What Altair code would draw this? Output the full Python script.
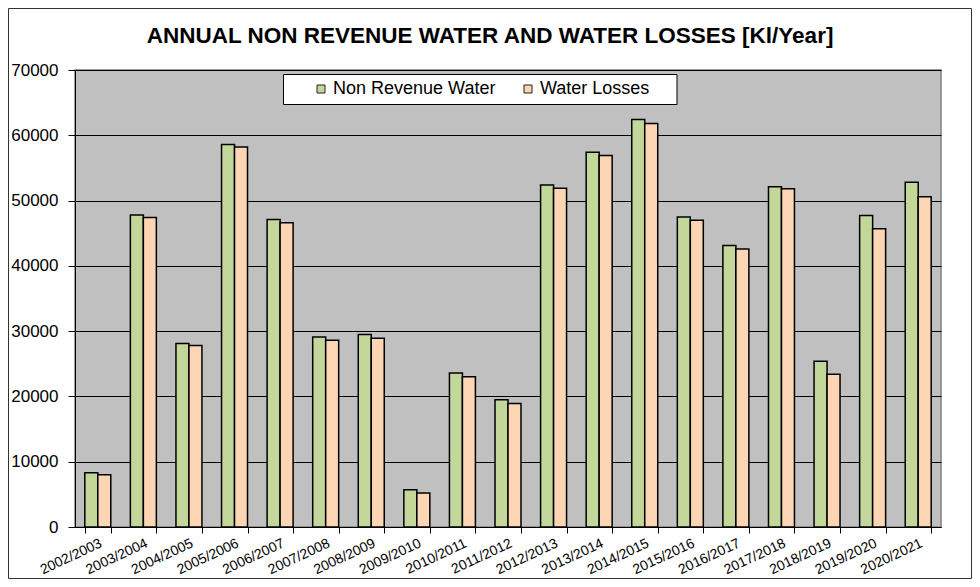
import altair as alt
import pandas as pd

years = ["2002/2003", "2003/2004", "2004/2005", "2005/2006", "2006/2007",
         "2007/2008", "2008/2009", "2009/2010", "2010/2011", "2011/2012",
         "2012/2013", "2013/2014", "2014/2015", "2015/2016", "2016/2017",
         "2017/2018", "2018/2019", "2019/2020", "2020/2021"]
non_revenue_water = [8300, 47800, 28100, 58600, 47100, 29100, 29500, 5700, 23600, 19500,
                     52400, 57400, 62400, 47500, 43100, 52100, 25400, 47700, 52800]
water_losses = [8000, 47400, 27800, 58200, 46600, 28600, 28900, 5200, 23000, 18900,
                51900, 56900, 61800, 47000, 42600, 51800, 23400, 45700, 50600]
series_names = ["Non Revenue Water", "Water Losses"]
series_colors = ["#C4D79B", "#FCD5B4"]
y_ticks = [0, 10000, 20000, 30000, 40000, 50000, 60000, 70000]

rows = []
for i, yr in enumerate(years):
    rows.append({"year": yr, "series": series_names[0], "value": non_revenue_water[i]})
    rows.append({"year": yr, "series": series_names[1], "value": water_losses[i]})
df = pd.DataFrame(rows)

FONT = "Liberation Sans"
W, H = 866, 457
PAD = {"left": 67, "top": 62, "right": 31, "bottom": 52}

bars = alt.Chart(df).mark_bar(stroke="black", strokeWidth=1.5).encode(
    x=alt.X("year:N", sort=years,
            scale=alt.Scale(paddingInner=0.43, paddingOuter=0.215),
            axis=alt.Axis(title=None, labelAngle=-25, labelFontSize=14, labelFont=FONT,
                          labelColor="black", tickBand="extent", tickSize=6,
                          tickColor="black", domainColor="black", labelPadding=3,
                          labelAlign="right", labelBaseline="top", grid=False)),
    xOffset=alt.XOffset("series:N", sort=series_names),
    y=alt.Y("value:Q", scale=alt.Scale(domain=[0, 70000], nice=False),
            axis=alt.Axis(title=None, values=y_ticks, format="d", labelFontSize=17,
                          labelFont=FONT, labelColor="black", tickSize=7,
                          tickColor="black", domainColor="black", labelPadding=10,
                          gridColor="black", gridWidth=1, gridOpacity=1)),
    color=alt.Color("series:N", sort=series_names,
                    scale=alt.Scale(domain=series_names, range=series_colors),
                    legend=alt.Legend(title=None, orient="none", legendX=237, legendY=10,
                                      direction="horizontal", symbolType="square",
                                      symbolSize=64, symbolStrokeColor="#222",
                                      symbolStrokeWidth=1, labelFont=FONT,
                                      labelFontSize=18, labelColor="black",
                                      labelOffset=3, columnPadding=23, padding=0,
                                      labelLimit=300)),
)

legend_box = alt.Chart(pd.DataFrame({"k": [0]})).mark_rect(
    fill="white", stroke="black", strokeWidth=1
).encode(x=alt.value(208.5), x2=alt.value(602), y=alt.value(4.5), y2=alt.value(34.5))

outer_border = alt.Chart(pd.DataFrame({"k": [0]})).mark_rect(
    fill=None, stroke="#333", strokeWidth=1
).encode(x=alt.value(-PAD["left"] + 0.5), x2=alt.value(W + PAD["right"] - 0.5),
         y=alt.value(-PAD["top"] + 0.5), y2=alt.value(H + PAD["bottom"] - 0.5))

chart = alt.layer(bars, legend_box, outer_border).properties(
    width=W, height=H,
    padding=PAD,
    autosize=alt.AutoSizeParams(type="none"),
    background="white",
    title=alt.TitleParams("ANNUAL NON REVENUE WATER AND WATER LOSSES [Kl/Year]",
                          font=FONT, fontSize=22.5, fontWeight="bold", color="black",
                          anchor="middle", baseline="alphabetic", dx=-18, dy=57.5,
                          offset=0),
).configure_view(fill="#C0C0C0", stroke="#808080", strokeWidth=1.5)

chart.save("out.html", embed_options={"renderer": "svg", "actions": False})
